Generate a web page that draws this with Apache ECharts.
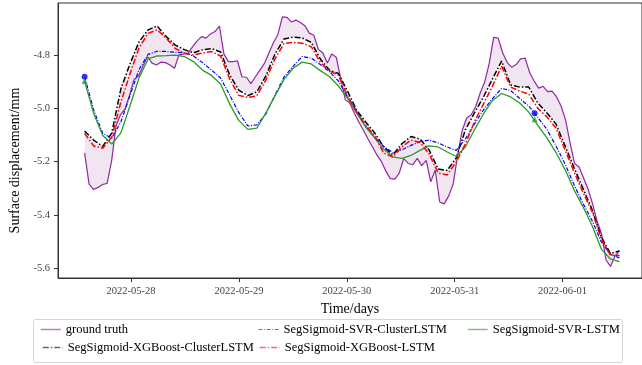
<!DOCTYPE html>
<html><head><meta charset="utf-8">
<script src="https://cdn.jsdelivr.net/npm/echarts@6/dist/echarts.min.js"></script>
<style>html,body{margin:0;padding:0;background:#fff}#c{width:642px;height:365px}</style>
</head><body><div id="c"></div>
<script>
// ---- data ----
const tickDates = ['2022-05-28', '2022-05-29', '2022-05-30', '2022-05-31', '2022-06-01'];
const yTicks = [-5.6, -5.4, -5.2, -5.0, -4.8];
const xRange = ['2022-05-27T07:45:00Z', '2022-06-01T17:40:00Z'];
const yRange = [-5.6376, -4.6038];

const gtStart = '2022-05-27T13:40:00Z';
const gtStepMinutes = 60;
const predStart = '2022-05-27T13:40:00Z';
const predStepMinutes = 121;

const groundTruth = [
  -5.167,-5.285,-5.305,-5.297,-5.286,-5.282,-5.198,-5.065,-5.023,-5.002,
  -4.950,-4.891,-4.878,-4.841,-4.805,-4.830,-4.837,-4.826,-4.828,-4.837,
  -4.849,-4.799,-4.796,-4.793,-4.769,-4.747,-4.730,-4.736,-4.720,-4.711,
  -4.691,-4.796,-4.824,-4.824,-4.821,-4.881,-4.883,-4.907,-4.881,-4.856,
  -4.831,-4.792,-4.753,-4.722,-4.656,-4.658,-4.675,-4.668,-4.677,-4.689,
  -4.717,-4.725,-4.778,-4.792,-4.829,-4.795,-4.809,-4.890,-4.968,-4.980,
  -5.018,-5.051,-5.081,-5.113,-5.143,-5.174,-5.199,-5.235,-5.264,-5.266,
  -5.243,-5.189,-5.207,-5.212,-5.188,-5.215,-5.195,-5.276,-5.232,-5.352,
  -5.359,-5.329,-5.284,-5.175,-5.083,-5.036,-5.024,-4.993,-4.942,-4.901,
  -4.832,-4.733,-4.736,-4.791,-4.827,-4.845,-4.835,-4.814,-4.811,-4.865,
  -4.897,-4.924,-4.917,-4.937,-4.935,-4.957,-4.991,-5.044,-5.130,-5.207,
  -5.220,-5.262,-5.303,-5.358,-5.423,-5.472,-5.570,-5.594,-5.555,-5.535
];
const xgbCluster = [
  -5.085,-5.119,-5.143,-5.092,-4.927,-4.833,-4.750,-4.705,-4.690,-4.730,
  -4.762,-4.779,-4.791,-4.780,-4.775,-4.788,-4.874,-4.931,-4.952,-4.938,
  -4.878,-4.796,-4.739,-4.732,-4.735,-4.752,-4.814,-4.856,-4.869,-4.935,
  -5.006,-5.051,-5.092,-5.145,-5.175,-5.133,-5.106,-5.115,-5.156,-5.228,
  -5.233,-5.186,-5.081,-5.017,-4.957,-4.889,-4.822,-4.912,-4.920,-4.920,
  -4.980,-5.017,-5.059,-5.141,-5.224,-5.303,-5.382,-5.483,-5.545,-5.536
];
const xgbLstm = [
  -5.094,-5.141,-5.150,-5.108,-4.976,-4.871,-4.773,-4.718,-4.705,-4.736,
  -4.775,-4.792,-4.799,-4.792,-4.786,-4.803,-4.889,-4.951,-4.959,-4.953,
  -4.893,-4.814,-4.756,-4.752,-4.755,-4.768,-4.827,-4.859,-4.876,-4.953,
  -5.014,-5.062,-5.104,-5.168,-5.183,-5.145,-5.119,-5.128,-5.171,-5.243,
  -5.250,-5.201,-5.134,-5.051,-4.983,-4.916,-4.841,-4.920,-4.935,-4.946,
  -5.000,-5.032,-5.074,-5.156,-5.239,-5.318,-5.389,-5.491,-5.551,-5.553
];
const svrCluster = [
  -4.881,-5.006,-5.094,-5.112,-5.051,-4.953,-4.854,-4.797,-4.785,-4.786,
  -4.789,-4.791,-4.803,-4.828,-4.856,-4.886,-4.950,-5.015,-5.066,-5.062,
  -5.021,-4.950,-4.882,-4.842,-4.805,-4.811,-4.835,-4.862,-4.897,-4.957,
  -5.010,-5.068,-5.108,-5.143,-5.166,-5.156,-5.139,-5.125,-5.119,-5.130,
  -5.145,-5.158,-5.115,-5.059,-5.006,-4.963,-4.925,-4.933,-4.963,-4.991,
  -5.034,-5.079,-5.141,-5.209,-5.288,-5.359,-5.423,-5.502,-5.549,-5.562
];
const svrLstm = [
  -4.897,-5.019,-5.102,-5.134,-5.092,-4.991,-4.886,-4.814,-4.803,-4.802,
  -4.800,-4.805,-4.824,-4.856,-4.876,-4.908,-4.983,-5.045,-5.079,-5.074,
  -5.017,-4.953,-4.891,-4.849,-4.826,-4.833,-4.858,-4.880,-4.916,-4.961,
  -5.017,-5.070,-5.111,-5.154,-5.182,-5.188,-5.177,-5.158,-5.141,-5.145,
  -5.164,-5.181,-5.145,-5.081,-5.021,-4.970,-4.944,-4.957,-4.980,-5.014,
  -5.064,-5.111,-5.166,-5.230,-5.307,-5.371,-5.442,-5.529,-5.566,-5.576
];
const markerTimes = ['2022-05-27T13:40:00Z', '2022-05-31T17:47:00Z'];
const markerSvrCluster = [-4.881, -5.018];
const markerSvrLstm = [-4.897, -5.041];

const names = {
  gt: 'ground truth',
  xc: 'SegSigmoid-XGBoost-ClusterLSTM',
  xl: 'SegSigmoid-XGBoost-LSTM',
  sc: 'SegSigmoid-SVR-ClusterLSTM',
  sl: 'SegSigmoid-SVR-LSTM'
};

// ---- build ----
function toPairs(start, stepMin, vals) {
  const t0 = Date.parse(start);
  return vals.map((v, i) => [t0 + i * stepMin * 60000, v]);
}
const gtPairs = toPairs(gtStart, gtStepMinutes, groundTruth);
const xcPairs = toPairs(predStart, predStepMinutes, xgbCluster);
const xlPairs = toPairs(predStart, predStepMinutes, xgbLstm);
const scPairs = toPairs(predStart, predStepMinutes, svrCluster);
const slPairs = toPairs(predStart, predStepMinutes, svrLstm);
const mkSc = markerTimes.map((t, i) => [Date.parse(t), markerSvrCluster[i]]);
const mkSl = markerTimes.map((t, i) => [Date.parse(t), markerSvrLstm[i]]);
const xTickVals = tickDates.map(d => Date.parse(d + 'T00:00:00Z'));

const serif = 'Liberation Serif';
const COL = { gt: '#8e2a9c', xc: '#000000', xl: '#ff0000', sc: '#0000ff', sl: '#2a9a2a' };
const dashDot = [6, 2, 1.5, 2];
const dashDotFine = [4, 1.5, 1, 1.5];

function pad(n) { return (n < 10 ? '0' : '') + n; }

const chart = echarts.init(document.getElementById('c'), null, { renderer: 'canvas' });

function legendItem(name, left, top, color, width, type) {
  return {
    data: [name], left: left, top: top, padding: 0, orient: 'horizontal',
    itemWidth: 20, itemHeight: 14, selectedMode: false,
    textStyle: { fontFamily: serif, fontSize: 12.5, color: '#000', lineHeight: 14 },
    itemStyle: { opacity: 0, borderWidth: 0 },
    lineStyle: { color: color, width: width, type: type, opacity: 0.6 }
  };
}

chart.setOption({
  animation: false,
  backgroundColor: '#fff',
  grid: { left: 56, right: 0, top: 3, bottom: 87, show: true, borderColor: '#333', borderWidth: 1, containLabel: false },
  graphic: [{
    type: 'rect', left: 33, top: 319, z: -10,
    shape: { width: 589, height: 43, r: 2 },
    style: { fill: '#fff', stroke: '#d6d6d6', lineWidth: 1 }
  }],
  legend: [
    legendItem(names.gt, 40, 322.5, COL.gt, 1.5, 'solid'),
    legendItem(names.sc, 258, 322.5, COL.sc, 1.2, dashDotFine),
    legendItem(names.sl, 467, 322.5, COL.sl, 1.5, 'solid'),
    legendItem(names.xc, 42, 340.5, COL.xc, 1.5, dashDot),
    legendItem(names.xl, 259, 340.5, COL.xl, 1.5, dashDot)
  ],
  xAxis: {
    type: 'value',
    min: Date.parse(xRange[0]), max: Date.parse(xRange[1]),
    splitLine: { show: false },
    axisLine: { show: true, lineStyle: { color: '#333', width: 1 } },
    axisTick: { show: true, customValues: xTickVals, length: 4, lineStyle: { color: '#333' } },
    axisLabel: {
      customValues: xTickVals, margin: 8, fontFamily: serif, fontSize: 10.5, color: '#444',
      formatter: function (v) { const d = new Date(v); return d.getUTCFullYear() + '-' + pad(d.getUTCMonth() + 1) + '-' + pad(d.getUTCDate()); }
    },
    name: 'Time/days', nameLocation: 'middle', nameGap: 23,
    nameTextStyle: { fontFamily: serif, fontSize: 14, color: '#000' }
  },
  yAxis: {
    type: 'value',
    min: yRange[0], max: yRange[1],
    splitLine: { show: false },
    axisLine: { show: true, lineStyle: { color: '#333', width: 1 } },
    axisTick: { show: true, customValues: yTicks, length: 4, lineStyle: { color: '#333' } },
    axisLabel: {
      customValues: yTicks, margin: 8, fontFamily: serif, fontSize: 10.5, color: '#444',
      formatter: function (v) { return v.toFixed(1); }
    },
    name: 'Surface displacement/mm', nameLocation: 'middle', nameGap: 36,
    nameTextStyle: { fontFamily: serif, fontSize: 14, color: '#000', padding: [0, 40, 0, 0] }
  },
  series: [
    {
      type: 'custom', name: 'band', silent: true, z: 1,
      data: [gtPairs[0]], encode: { x: 0, y: 1 },
      renderItem: function (params, api) {
        const pts = [];
        for (let i = 0; i < gtPairs.length; i++) pts.push(api.coord(gtPairs[i]));
        for (let i = xcPairs.length - 1; i >= 0; i--) pts.push(api.coord(xcPairs[i]));
        return { type: 'polygon', shape: { points: pts }, style: { fill: 'rgba(128,0,128,0.1)', stroke: null } };
      }
    },
    { type: 'line', name: names.gt, data: gtPairs, symbol: 'none', z: 2,
      lineStyle: { color: COL.gt, width: 1.2 }, itemStyle: { color: COL.gt } },
    { type: 'line', name: names.xc, data: xcPairs, symbol: 'none', z: 3,
      lineStyle: { color: COL.xc, width: 1.5, type: dashDot }, itemStyle: { color: COL.xc } },
    { type: 'line', name: names.sc, data: scPairs, symbol: 'none', z: 3,
      lineStyle: { color: COL.sc, width: 1.2, type: dashDotFine }, itemStyle: { color: COL.sc } },
    { type: 'line', name: names.sl, data: slPairs, symbol: 'none', z: 3,
      lineStyle: { color: COL.sl, width: 1.3 }, itemStyle: { color: COL.sl } },
    { type: 'line', name: names.xl, data: xlPairs, symbol: 'none', z: 4,
      lineStyle: { color: COL.xl, width: 1.5, type: dashDot }, itemStyle: { color: COL.xl } },
    { type: 'scatter', name: 'marker-sc', data: mkSc, symbol: 'circle', symbolSize: 6, z: 5,
      itemStyle: { color: COL.sc } },
    { type: 'scatter', name: 'marker-sl', data: mkSl, symbol: 'triangle', symbolSize: 6, z: 5,
      itemStyle: { color: COL.sl } }
  ]
});
</script>
</body></html>
